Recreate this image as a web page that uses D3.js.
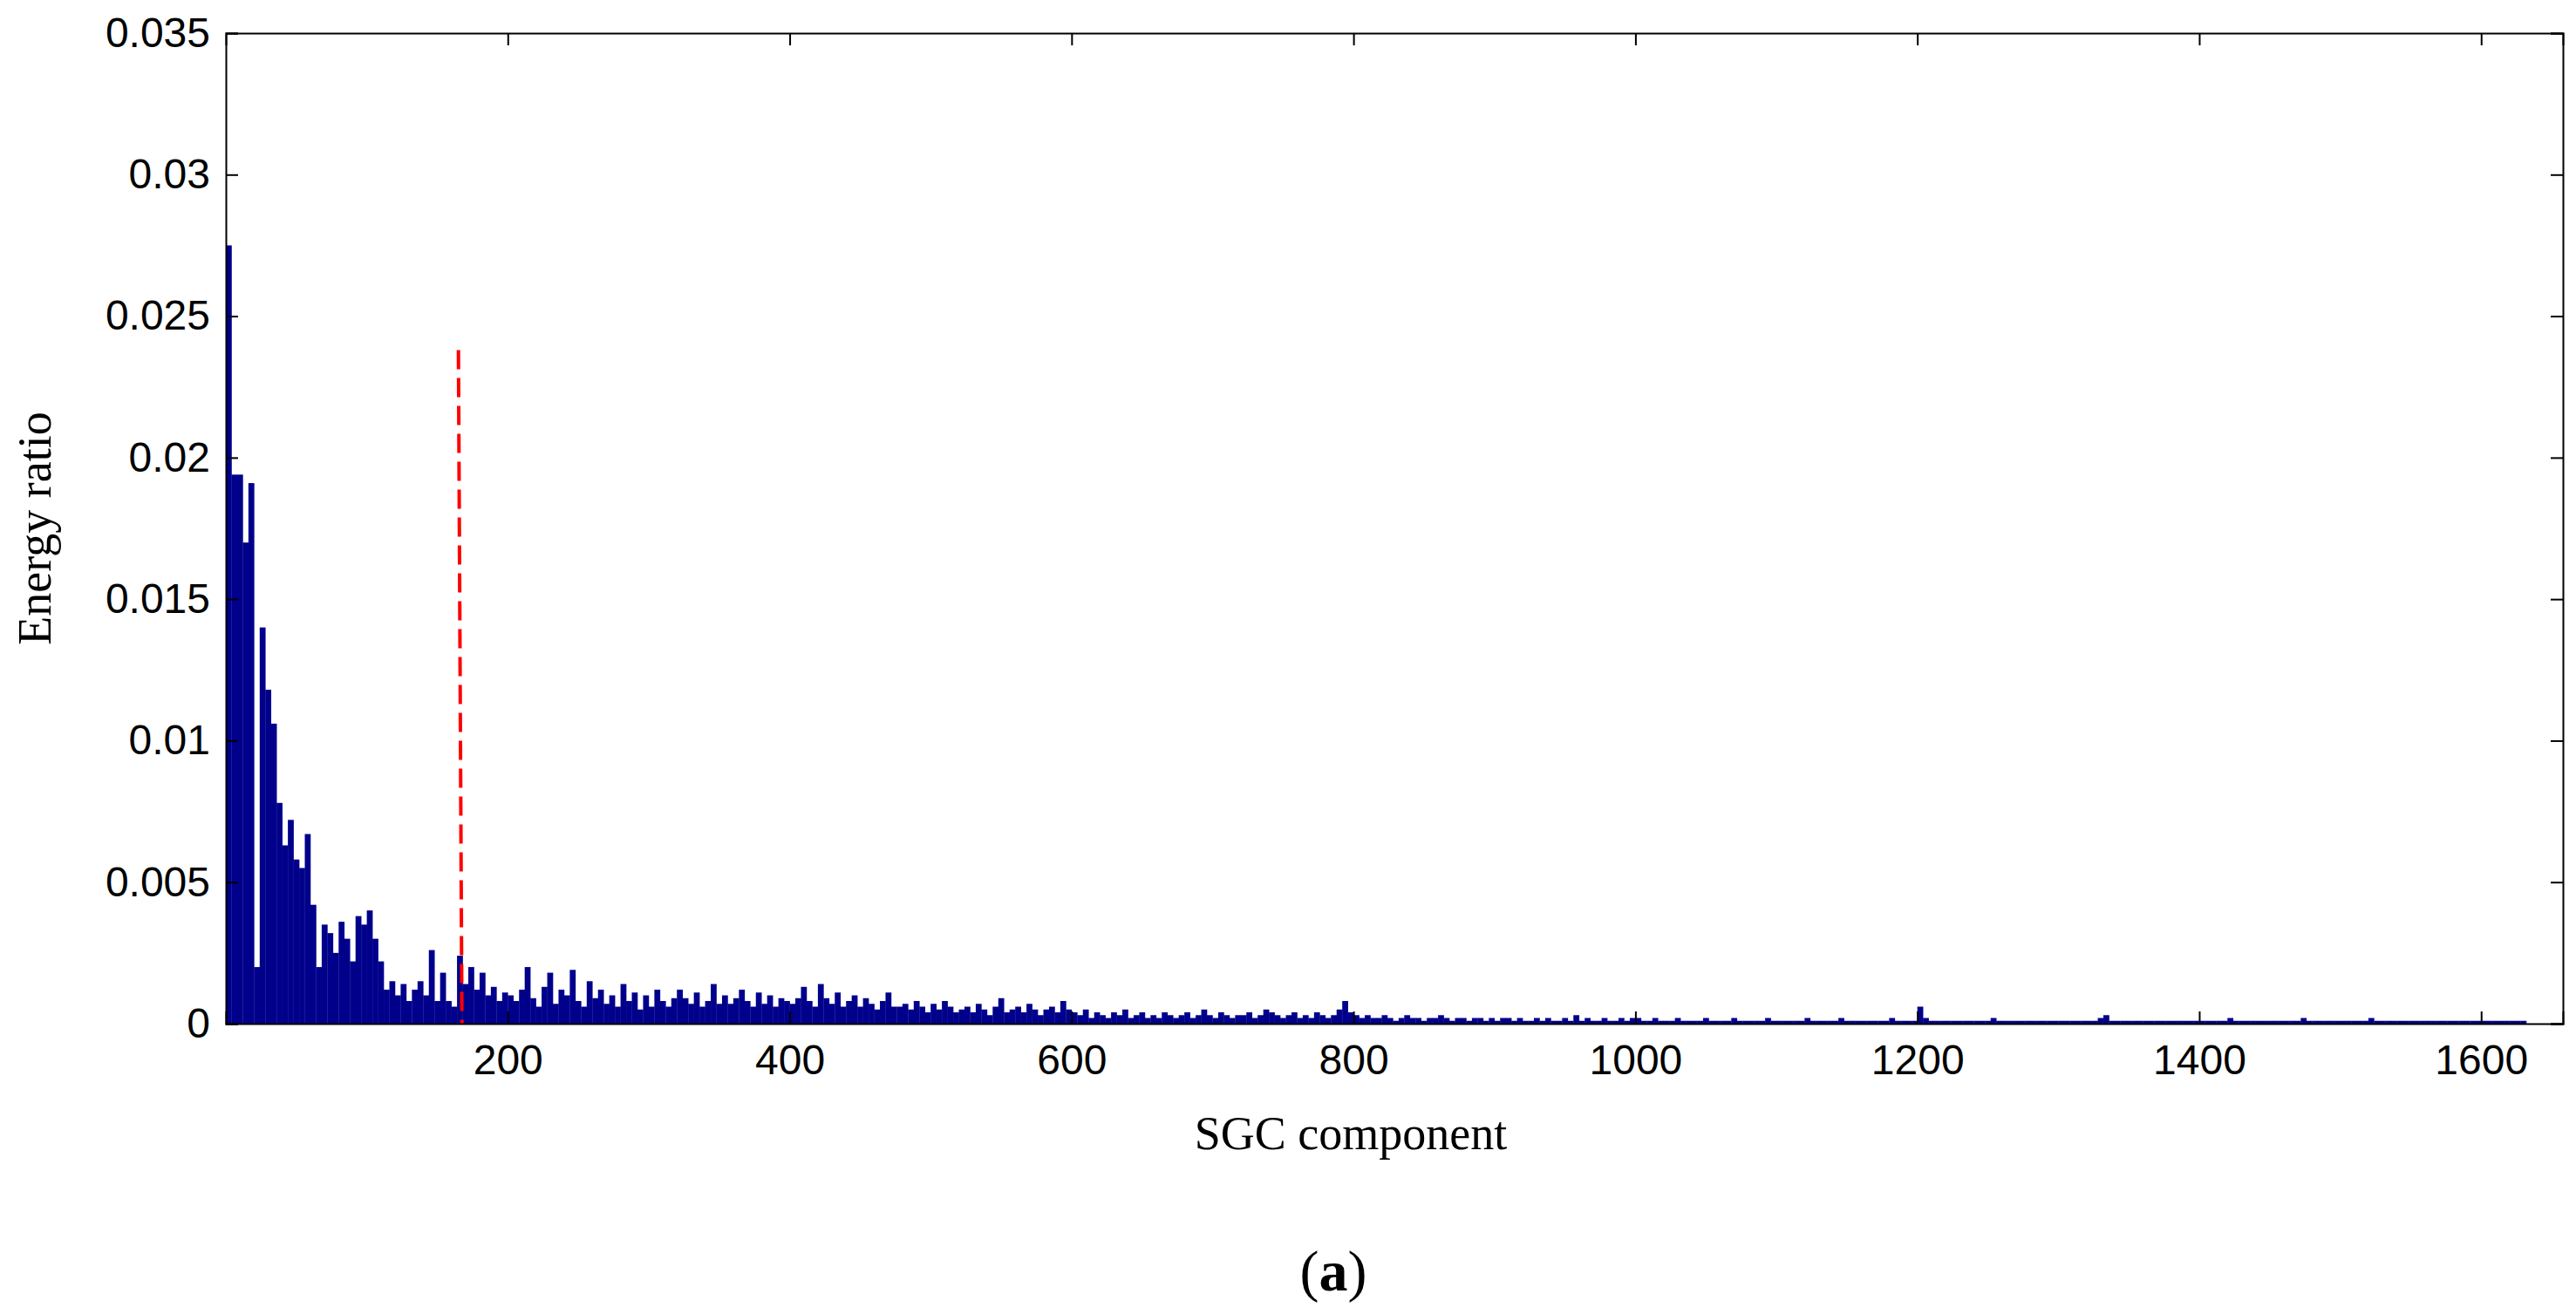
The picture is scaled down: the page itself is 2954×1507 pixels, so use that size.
<!DOCTYPE html>
<html><head><meta charset="utf-8">
<script src="https://cdn.jsdelivr.net/npm/d3@7"></script>
<style>body{margin:0;background:#fff}</style></head>
<body><svg id="c" width="2954" height="1507"></svg>
<script>
// Energy ratio per SGC component, binned by 4 components, in units of 1e-4
const binSize = 4;
const energy = [
275,194,194,170,191,20,140,118,106,78,63,72,58,55,67,42,20,35,32,25,36,30,22,38,35,40,30,22,12,15,10,14,8,12,15,10,26,8,18,8,6,24,14,20,12,18,10,13,8,11,
10,8,12,20,9,6,13,18,7,12,10,19,8,6,15,9,12,7,10,6,14,8,11,5,10,6,12,8,6,9,12,9,7,11,6,8,14,7,10,7,9,12,8,6,11,7,10,6,9,8,
7,9,13,8,6,14,9,7,11,6,8,10,6,9,7,5,8,11,6,6,7,5,8,6,4,7,5,8,6,4,5,6,4,7,5,3,6,9,4,5,6,4,7,5,3,5,6,4,8,5,
4,3,5,2,4,3,2,4,3,5,2,3,4,2,3,2,4,3,2,3,4,2,3,5,3,2,4,3,2,3,3,4,2,3,5,4,3,2,3,4,2,3,2,4,3,2,3,5,8,4,
3,2,3,2,2,3,2,1,2,3,2,2,1,2,2,3,2,1,2,2,1,2,2,1,2,1,2,2,1,2,1,1,2,1,2,1,1,2,1,3,1,2,1,1,2,1,1,2,1,2,
2,1,1,2,1,1,1,2,1,1,1,1,2,1,1,1,1,2,1,1,1,1,1,2,1,1,1,1,1,1,2,1,1,1,1,1,2,1,1,1,1,1,1,1,1,2,1,1,1,1,
6,2,1,1,1,1,1,1,1,1,1,1,1,2,1,1,1,1,1,1,1,1,1,1,1,1,1,1,1,1,1,1,2,3,1,1,1,1,1,1,1,1,1,1,1,1,1,1,1,1,
1,1,1,1,1,2,1,1,1,1,1,1,1,1,1,1,1,1,2,1,1,1,1,1,1,1,1,1,1,1,2,1,1,1,1,1,1,1,1,1,1,1,1,1,1,1,1,1,1,1,1,1,1,1,1,1,1,1
];
const xTicks = [200,400,600,800,1000,1200,1400,1600];
const yTicks = [0,0.005,0.01,0.015,0.02,0.025,0.03,0.035];
const cutoff = {x:165, top:0.0238};

const svg = d3.select("#c");
const L=259,R=2939,T=38,B=1174;
const x = d3.scaleLinear().domain([0,1658]).range([L,R]);
const y = d3.scaleLinear().domain([0,0.035]).range([B,T]);

svg.append("g").selectAll("rect").data(energy).join("rect")
  .attr("x",(d,i)=>x(i*binSize))
  .attr("width",(d,i)=>x((i+1)*binSize)-x(i*binSize)+0.3)
  .attr("y",d=>y(d*1e-4))
  .attr("height",d=>B-y(d*1e-4))
  .attr("fill","#00008b");

svg.append("line").attr("x1",x(cutoff.x)).attr("x2",x(cutoff.x)+4)
  .attr("y1",y(cutoff.top)).attr("y2",B)
  .attr("stroke","#ff0000").attr("stroke-width",4).attr("stroke-dasharray","22,10");

const fmt = d=> d===0?"0":String(+d.toFixed(3));
const ax=[
 svg.append("g").attr("transform",`translate(0,${B})`).call(d3.axisBottom(x).tickValues(xTicks).tickFormat(d=>String(d)).tickSize(-14).tickPadding(24)),
 svg.append("g").attr("transform",`translate(0,${T})`).call(d3.axisTop(x).tickValues(xTicks).tickSize(-14).tickFormat("")),
 svg.append("g").attr("transform",`translate(${L},0)`).call(d3.axisLeft(y).tickValues(yTicks).tickFormat(fmt).tickSize(-14).tickPadding(18)),
 svg.append("g").attr("transform",`translate(${R},0)`).call(d3.axisRight(y).tickValues(yTicks).tickSize(-14).tickFormat(""))
];
ax.forEach(g=>{g.selectAll("path,line").attr("stroke","#000").attr("stroke-width",2);
  g.selectAll("text").attr("font-family","Liberation Sans, Arial").attr("font-size",48).attr("fill","#000");});

svg.append("text").attr("x",(L+R)/2-50).attr("y",1318).attr("text-anchor","middle")
  .attr("font-family","Liberation Serif, Times New Roman").attr("font-size",54).text("SGC component");
svg.append("text").attr("transform",`translate(58,${(T+B)/2}) rotate(-90)`).attr("text-anchor","middle")
  .attr("font-family","Liberation Serif, Times New Roman").attr("font-size",54).text("Energy ratio");
const t=svg.append("text").attr("x",(L+R)/2-70).attr("y",1480).attr("text-anchor","middle")
  .attr("font-family","Liberation Serif, Times New Roman").attr("font-size",66);
t.append("tspan").text("(");t.append("tspan").attr("font-weight","bold").text("a");t.append("tspan").text(")");
</script></body></html>
